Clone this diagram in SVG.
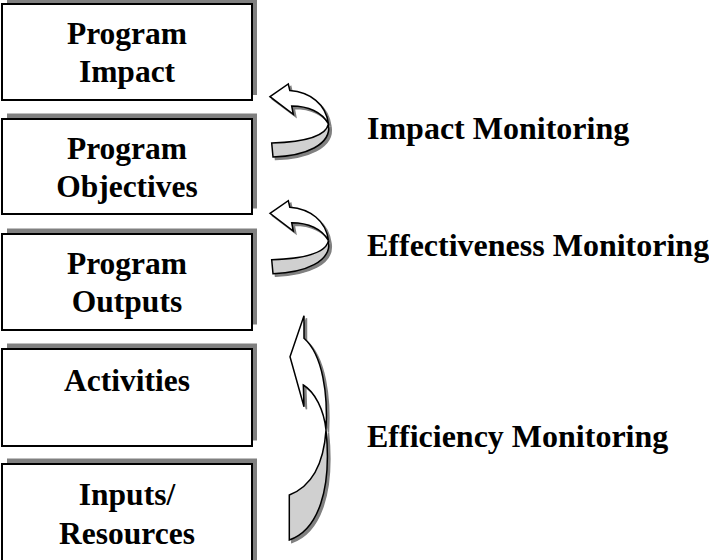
<svg xmlns="http://www.w3.org/2000/svg" width="709" height="560" viewBox="0 0 709 560">
<defs>
<style>
.box{fill:#fff;stroke:#000;stroke-width:2}
.shd{fill:#808080}
.t{font-family:"Liberation Serif","Times New Roman",serif;font-weight:bold;font-size:31.5px;fill:#000}
.tc{text-anchor:middle}
.lbl{font-family:"Liberation Serif","Times New Roman",serif;font-weight:bold;font-size:32px;fill:#000}
.aw{fill:#fff;stroke:#000;stroke-width:1.5;stroke-linejoin:miter}
.ag{fill:#d0d0d0;stroke:#000;stroke-width:1.5}
.as{fill:#808080;stroke:#808080;stroke-width:1.5}
</style>
<path id="curlW" d="M270,96.7 L288.3,84 L289.8,90.5 C310,92 326,104 328.5,124 C322,112 308,106 291.7,106 L293.3,114.3 Z"/>
<path id="curlG" d="M328.5,124 C326,136 305,142 271.7,143 L273,157 C305,156 332,145 328.5,124 Z"/>
<path id="effW" d="M304,315.7 L290,356.7 L304,406.7 L303.3,385 C315,392 324,410 326,430 C328,395 323,355 304,338.3 Z"/>
<path id="effG" d="M326,430 C324,460 315,485 289.3,495 L289.3,540 C318,530 332,490 326,430 Z"/>
<g id="curlArrow">
<use class="as" href="#curlW" transform="translate(2.5,2.5)"/>
<use class="as" href="#curlG" transform="translate(2.5,2.5)"/>
<use class="ag" href="#curlG"/>
<use class="aw" href="#curlW"/>
</g>
</defs>

<g id="node-impact">
<rect class="shd" x="7" y="-1" width="250" height="96"/>
<rect class="box" x="2" y="4" width="250" height="96"/>
<text class="t tc" x="127" y="44">Program</text>
<text class="t tc" x="127" y="82">Impact</text>
</g>
<g id="node-objectives">
<rect class="shd" x="7" y="113.5" width="250" height="95"/>
<rect class="box" x="2" y="119" width="250" height="95"/>
<text class="t tc" x="127" y="159">Program</text>
<text class="t tc" x="127" y="197">Objectives</text>
</g>
<g id="node-outputs">
<rect class="shd" x="7" y="228.5" width="250" height="96"/>
<rect class="box" x="2" y="234" width="250" height="96"/>
<text class="t tc" x="127" y="274">Program</text>
<text class="t tc" x="127" y="312">Outputs</text>
</g>
<g id="node-activities">
<rect class="shd" x="7" y="343.5" width="250" height="97"/>
<rect class="box" x="2" y="349" width="250" height="97"/>
<text class="t tc" x="127" y="391">Activities</text>
</g>
<g id="node-inputs">
<rect class="shd" x="7" y="458.5" width="250" height="110"/>
<rect class="box" x="2" y="464" width="250" height="110"/>
<text class="t tc" x="127" y="505">Inputs/</text>
<text class="t tc" x="127" y="543.5">Resources</text>
</g>

<g id="connectors">
<use href="#curlArrow"/>
<use href="#curlArrow" transform="translate(0,116.7)"/>
<g id="efficiency-arrow">
<use class="as" href="#effW" transform="translate(2.5,2.5)"/>
<use class="as" href="#effG" transform="translate(2.5,2.5)"/>
<use class="ag" href="#effG"/>
<use class="aw" href="#effW"/>
</g>
</g>

<g id="labels">
<text class="lbl" x="367" y="139">Impact Monitoring</text>
<text class="lbl" x="367" y="256">Effectiveness Monitoring</text>
<text class="lbl" x="367" y="447">Efficiency Monitoring</text>
</g>
</svg>
